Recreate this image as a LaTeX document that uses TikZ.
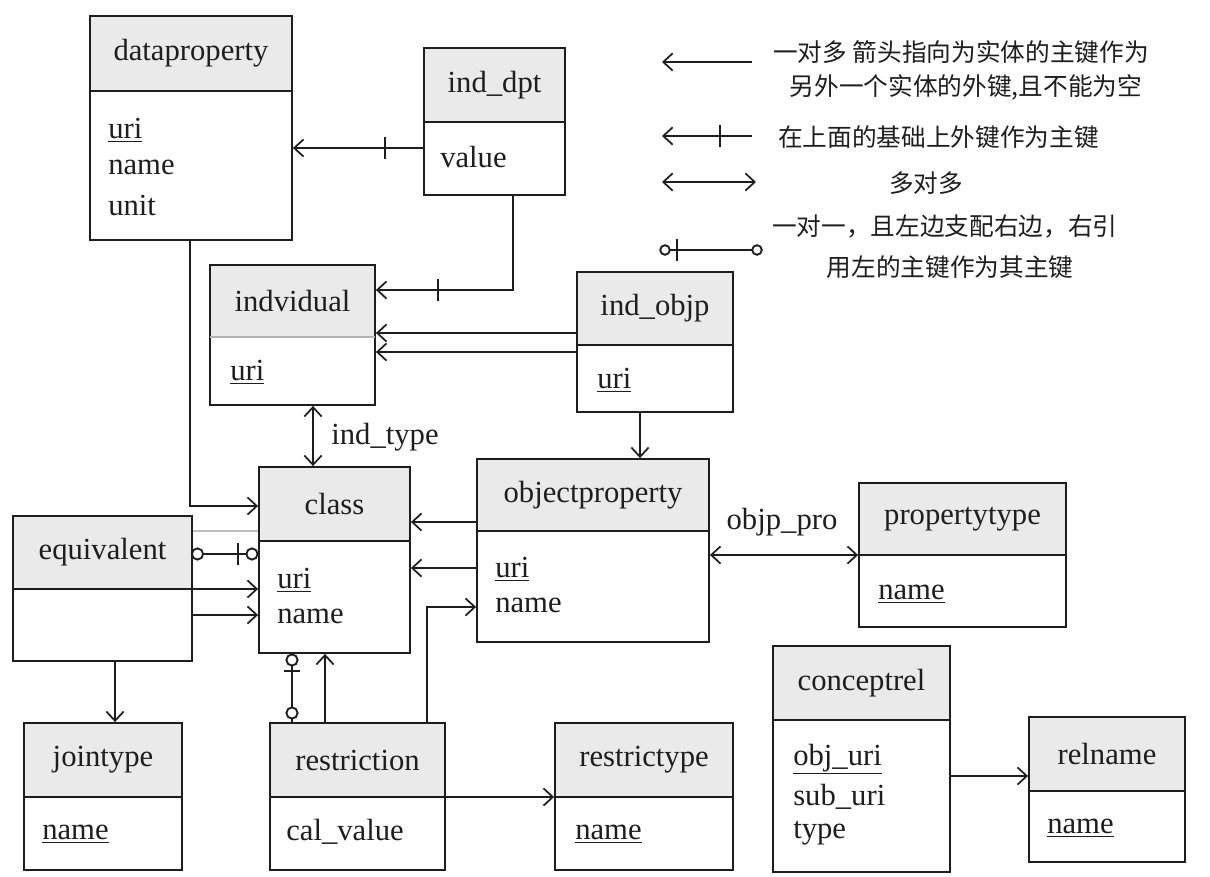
\documentclass[tikz,border=0pt]{standalone}
\usepackage{fontspec}
\setmainfont{Liberation Serif}
\newfontfamily\cjk{Noto Sans CJK SC}
\usetikzlibrary{arrows.meta,fit}
\definecolor{hdr}{RGB}{234,234,234}
\definecolor{ink}{RGB}{30,30,30}
\tikzset{
  ln/.style={line width=1.4pt, draw=ink},
  ent/.style={ln, inner sep=0pt},
  ttl/.style={inner sep=0pt, text=ink},
  attr/.style={inner sep=0pt, anchor=west, text=ink},
  arr/.style={ln, -{Straight Barb[length=7pt,width=13pt,line width=1.3pt]}},
  darr/.style={ln, {Straight Barb[length=7pt,width=13pt,line width=1.3pt]}-{Straight Barb[length=7pt,width=13pt,line width=1.3pt]}},
  lbl/.style={inner sep=0pt, text=ink},
  cjkt/.style={inner sep=0pt, text=ink, font=\cjk\fontsize{18.5}{22}\selectfont},
  ring/.style={ln, fill=white},
}
\newcommand\entity[7]{%
  \fill[hdr] (#2,#3) rectangle (#4,#6);
  \node[ent, fit={(#2,#3)(#4,#5)}] (#1) {};
  \draw[ln] (#2,#6) -- (#4,#6);
  \node[ttl] (#1-t) at ({(#2+#4)/2},{(#3+#6)/2}) {#7};
}
\newcommand\vtick[2]{\draw[ln] ({#1},{#2-11}) -- ({#1},{#2+11});}
\newcommand\htick[2]{\draw[ln] ({#1-8},{#2}) -- ({#1+8},{#2});}
\begin{document}
\begin{tikzpicture}[x=0.75pt,y=-0.75pt, font=\fontsize{23}{27}\selectfont]
\useasboundingbox (0,0) rectangle (1210,877);
\fill[white] (0,0) rectangle (1210,877);

% ---------- entities ----------
\entity{dp}{90}{16}{292}{240}{91}{dataproperty}
\node[attr] (dp-a1) at (108,130) {\underline{uri}};
\node[attr] (dp-a2) at (108,167) {name};
\node[attr] (dp-a3) at (108,205) {unit};

\entity{idt}{424}{48}{565}{195}{122}{ind\_dpt}
\node[attr] (idt-a1) at (440,157) {value};

\fill[hdr] (210,265) rectangle (375,337);
\node[ent, fit={(210,265)(375,405)}] (ind) {};
\draw[line width=0.8pt, draw=black!30] (210,337) -- (375,337);
\node[ttl] (ind-t) at (292.5,301) {indvidual};
\node[attr] (ind-a1) at (230,372) {\underline{uri}};

\entity{iob}{577}{272}{733}{412}{345}{ind\_objp}
\node[attr] (iob-a1) at (597,380) {\underline{uri}};

\entity{cls}{259}{467}{410}{653}{541}{class}
\node[attr] (cls-a1) at (277,580) {\underline{uri}};
\node[attr] (cls-a2) at (277,616) {name};

\entity{op}{477}{459}{709}{642}{531}{objectproperty}
\node[attr] (op-a1) at (495,569) {\underline{uri}};
\node[attr] (op-a2) at (495,605) {name};

\entity{pt}{859}{483}{1066}{627}{555}{propertytype}
\node[attr] (pt-a1) at (878,594) {\underline{name}};

\entity{eq}{13}{516}{192}{661}{589}{equivalent}

\entity{jt}{24}{723}{182}{870}{797}{jointype}
\node[attr] (jt-a1) at (42,834) {\underline{name}};

\entity{rs}{270}{723}{445}{870}{797}{restriction}
\node[attr] (rs-a1) at (286,832) {cal\_value};

\entity{rt}{555}{723}{733}{870}{797}{restrictype}
\node[attr] (rt-a1) at (575,834) {\underline{name}};

\entity{cr}{773}{646}{950}{872}{720}{conceptrel}
\node[attr] (cr-a1) at (793,759) {\underline{obj\_uri}};
\node[attr] (cr-a2) at (793,797) {sub\_uri};
\node[attr] (cr-a3) at (793,833) {type};

\entity{rn}{1029}{717}{1185}{862}{791}{relname}
\node[attr] (rn-a1) at (1047,828) {\underline{name}};

% ---------- connectors ----------
% ind_dpt -> dataproperty
\draw[arr] (idt.west |- 0,148) -- (dp.east |- 0,148);
\vtick{385}{148}
% ind_dpt -> indvidual
\draw[arr] (idt.south -| 513,0) -- (513,290) -- (ind.east |- 0,290);
\vtick{438}{290}
% ind_objp -> indvidual (two)
\draw[arr] (iob.west |- 0,333) -- (ind.east |- 0,333);
\draw[arr] (iob.west |- 0,352) -- (ind.east |- 0,352);
% ind_objp -> objectproperty
\draw[arr] (iob.south -| 640,0) -- (op.north -| 640,0);
% indvidual <-> class (ind_type)
\draw[darr] (ind.south -| 313,0) -- (cls.north -| 313,0);
\node[lbl] (indtype) at (385,437) {ind\_type};
% dataproperty -> class
\draw[arr] (dp.south -| 190,0) -- (190,506) -- (cls.west |- 0,506);
% objectproperty -> class (two)
\draw[arr] (op.west |- 0,522) -- (cls.east |- 0,522);
\draw[arr] (op.west |- 0,568) -- (cls.east |- 0,568);
% objectproperty <-> propertytype
\draw[darr] (op.east |- 0,555) -- (pt.west |- 0,555);
\node[lbl] (objppro) at (782,522) {objp\_pro};
% equivalent -- class (faint)
\draw[line width=0.8pt, draw=black!25] (eq.east |- 0,531) -- (cls.west |- 0,531);
% equivalent o--+o class
\draw[ln] (eq.east |- 0,554) -- (cls.west |- 0,554);
\draw[ring] (197.5,554) circle[radius=4.2pt];
\vtick{238}{554}
\draw[ring] (252,554) circle[radius=4.2pt];
% equivalent -> class (two)
\draw[arr] (eq.east |- 0,589) -- (cls.west |- 0,589);
\draw[arr] (eq.east |- 0,615) -- (cls.west |- 0,615);
% equivalent -> jointype
\draw[arr] (eq.south -| 115,0) -- (jt.north -| 115,0);
% restriction o--o class
\draw[ln] (cls.south -| 292,0) -- (rs.north -| 292,0);
\draw[ring] (292,660) circle[radius=4.2pt];
\htick{292}{671}
\draw[ring] (292,713) circle[radius=4.2pt];
% restriction -> class
\draw[arr] (rs.north -| 325,0) -- (cls.south -| 325,0);
% restriction -> objectproperty
\draw[arr] (rs.north -| 427,0) -- (427,607) -- (op.west |- 0,607);
% restriction -> restrictype
\draw[arr] (rs.east |- 0,797) -- (rt.west |- 0,797);
% conceptrel -> relname
\draw[arr] (cr.east |- 0,776) -- (rn.west |- 0,776);

% ---------- legend ----------
\coordinate (l1a) at (752,62); \coordinate (l1b) at (662,62);
\draw[arr] (l1a) -- (l1b);
\node[cjkt, anchor=west] (l1t1) at (773,52) {一对多 箭头指向为实体的主键作为};
\node[cjkt] (l1t2) at (966,87) {另外一个实体的外键,且不能为空};

\coordinate (l2a) at (752,136); \coordinate (l2b) at (662,136);
\draw[arr] (l2a) -- (l2b);
\vtick{720}{136}
\node[cjkt, anchor=west] (l2t) at (778,137) {在上面的基础上外键作为主键};

\coordinate (l3a) at (662,182); \coordinate (l3b) at (756,182);
\draw[darr] (l3a) -- (l3b);
\node[cjkt] (l3t) at (926,183) {多对多};

\coordinate (l4a) at (665,250); \coordinate (l4b) at (757,250);
\draw[ln] (l4a) -- (l4b);
\draw[ring] (l4a) circle[radius=3.6pt];
\vtick{677}{250}
\draw[ring] (l4b) circle[radius=3.6pt];
\node[cjkt, anchor=west] (l4t1) at (772,226) {一对一，且左边支配右边，右引};
\node[cjkt] (l4t2) at (950,267) {用左的主键作为其主键};
\end{tikzpicture}
\end{document}
